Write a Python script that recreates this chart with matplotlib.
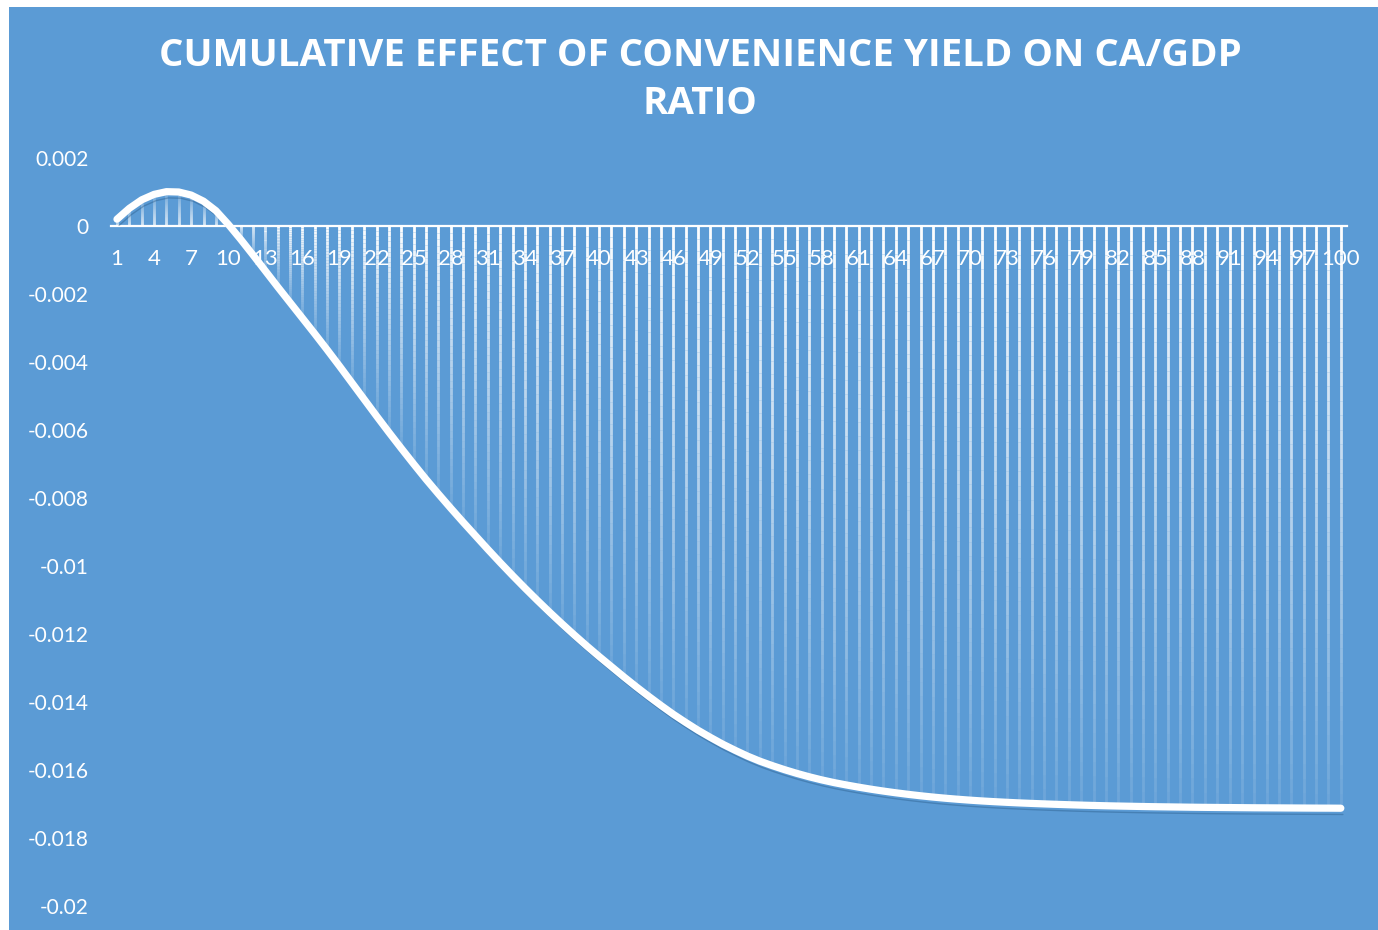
import numpy as np
import matplotlib
matplotlib.use('Agg')
import matplotlib.pyplot as plt
import matplotlib.patheffects as pe
from matplotlib.collections import LineCollection
from matplotlib.patches import Rectangle

# values (cumulative effect, periods 1..100)
periods = list(range(1, 101))
effect = [
    0.000200, 0.000520, 0.000770, 0.000930, 0.001010, 0.001000, 0.000910, 0.000730, 0.000450, 0.000050,
    -0.000390, -0.000850, -0.001320, -0.001790, -0.002250, -0.002710, -0.003170, -0.003640, -0.004120, -0.004610,
    -0.005100, -0.005590, -0.006070, -0.006540, -0.007000, -0.007450, -0.007880, -0.008300, -0.008710, -0.009110,
    -0.009510, -0.009900, -0.010280, -0.010650, -0.011010, -0.011360, -0.011700, -0.012030, -0.012350, -0.012660,
    -0.012960, -0.013260, -0.013550, -0.013830, -0.014100, -0.014360, -0.014600, -0.014830, -0.015040, -0.015240,
    -0.015420, -0.015590, -0.015740, -0.015870, -0.015990, -0.016100, -0.016200, -0.016290, -0.016370, -0.016440,
    -0.016505, -0.016565, -0.016620, -0.016670, -0.016716, -0.016758, -0.016796, -0.016830, -0.016860, -0.016887,
    -0.016911, -0.016932, -0.016951, -0.016968, -0.016983, -0.016997, -0.017010, -0.017022, -0.017033, -0.017043,
    -0.017052, -0.017060, -0.017067, -0.017074, -0.017080, -0.017085, -0.017090, -0.017095, -0.017099, -0.017102,
    -0.017105, -0.017108, -0.017111, -0.017113, -0.017115, -0.017117, -0.017119, -0.017121, -0.017122, -0.017124,
]
title_lines = ['CUMULATIVE EFFECT OF CONVENIENCE YIELD ON CA/GDP', 'RATIO']
y_ticks = [0.002, 0, -0.002, -0.004, -0.006, -0.008, -0.01, -0.012, -0.014, -0.016, -0.018, -0.02]
x_label_step = 3

bg = '#5B9BD5'

fig = plt.figure(figsize=(13.78, 9.30), dpi=100)
fig.patch.set_facecolor('white')
fig.patches.append(Rectangle((9 / 1378, 0), 1 - 9 / 1378, 923 / 930,
                             transform=fig.transFigure, facecolor=bg,
                             edgecolor='none', zorder=-10))

ax = fig.add_axes([110.8 / 1378, 1 - 906 / 930, (1347 - 110.8) / 1378, (906 - 158) / 930])
ax.set_facecolor('none')
ax.set_xlim(0.5, 100.5)
ax.set_ylim(-0.02, 0.002)

# drop lines: solid white at the axis, fading out toward the curve
n_sub = 40
segs, cols = [], []
for x, v in zip(periods, effect):
    ys = np.linspace(0, v, n_sub + 1)
    for k in range(n_sub):
        segs.append([(x, ys[k]), (x, ys[k + 1])])
        t = (k + 0.5) / n_sub
        cols.append((1, 1, 1, 1 - 0.9 * t))
lc = LineCollection(segs, colors=cols, linewidths=2.0, capstyle='butt', zorder=2)
ax.add_collection(lc)

ax.plot(periods, effect, color='white', lw=5.2, solid_capstyle='round', zorder=4,
        path_effects=[pe.SimpleLineShadow(offset=(1.5, -4.5), shadow_color='#1F4E79',
                                          alpha=0.35, linewidth=1.0),
                      pe.Normal()])

for s in ['top', 'right', 'left']:
    ax.spines[s].set_visible(False)
ax.spines['bottom'].set_position(('data', 0))
ax.spines['bottom'].set_color('white')
ax.spines['bottom'].set_linewidth(1.6)
ax.spines['bottom'].set_zorder(3)

xt = periods[::x_label_step]
ax.set_xticks(xt)
ax.set_xticklabels([str(p) for p in xt])
ax.set_yticks(y_ticks)
ax.set_yticklabels(['0' if v == 0 else f'{v:g}' for v in y_ticks])
ax.tick_params(axis='x', length=0, pad=16.5, labelsize=16, labelcolor='white')
ax.tick_params(axis='y', length=0, pad=16, labelsize=15, labelcolor='white')
for lab in ax.get_xticklabels() + ax.get_yticklabels():
    lab.set_family(['Lato', 'DejaVu Sans'])

fig.text(700 / 1378, 1 - 66 / 930, title_lines[0], ha='center', va='baseline',
         color='white', fontsize=27.6, fontweight='bold', family=['Open Sans', 'DejaVu Sans'])
fig.text(700 / 1378, 1 - 114 / 930, title_lines[1], ha='center', va='baseline',
         color='white', fontsize=27.6, fontweight='bold', family=['Open Sans', 'DejaVu Sans'])

fig.savefig('out.png', dpi=100, facecolor=fig.get_facecolor())
